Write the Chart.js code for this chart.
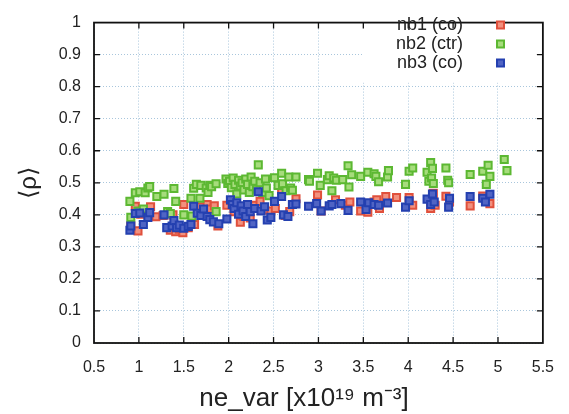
<!DOCTYPE html>
<html>
<head>
<meta charset="utf-8">
<script src="https://cdn.jsdelivr.net/npm/chart.js@4/dist/chart.umd.min.js"></script>
<style>
html,body{margin:0;padding:0;background:#fff;}
#wrap{width:569px;height:414px;position:relative;}
</style>
</head>
<body>
<div id="wrap"><canvas id="c" width="569" height="414"></canvas></div>
<script>
// ---- data ----
const seriesLabels = ['nb1 (co)', 'nb2 (ctr)', 'nb3 (co)'];
const xTickLabels = ['0.5','1','1.5','2','2.5','3','3.5','4','4.5','5','5.5'];
const yTickLabels = ['0','0.1','0.2','0.3','0.4','0.5','0.6','0.7','0.8','0.9','1'];
const xTitle = 'ne_var [x10\u00B9\u2079 m\u207B\u00B3]\u00A0\u00A0\u00A0\u00A0';
const yTitle = '\u27E8\u03C1\u27E9';

const nb1X = [0.91,0.96,0.99,1.02,1.13,1.19,1.27,1.35,1.38,1.41,1.45,1.49,1.50,1.55,1.62,1.69,1.72,1.76,1.80,1.84,1.88,1.98,2.02,2.06,2.10,2.13,2.17,2.20,2.24,2.29,2.35,2.40,2.47,2.52,2.59,2.63,2.68,2.75,2.99,3.03,3.19,3.30,3.35,3.47,3.55,3.62,3.65,3.68,3.75,3.87,4.01,4.05,4.25,4.28,4.30,4.42,4.46,4.69,4.83,4.91];
const nb1Y = [0.364,0.427,0.350,0.402,0.425,0.394,0.398,0.352,0.400,0.347,0.355,0.344,0.432,0.360,0.370,0.425,0.410,0.432,0.418,0.428,0.365,0.430,0.445,0.410,0.425,0.377,0.395,0.418,0.390,0.430,0.442,0.415,0.412,0.420,0.475,0.398,0.410,0.450,0.462,0.412,0.447,0.430,0.440,0.412,0.408,0.440,0.447,0.420,0.457,0.454,0.454,0.430,0.420,0.467,0.430,0.458,0.440,0.428,0.459,0.435];

const nb2X = [0.90,0.91,0.96,0.99,1.01,1.05,1.07,1.10,1.12,1.20,1.28,1.32,1.35,1.39,1.41,1.50,1.58,1.59,1.61,1.64,1.68,1.69,1.75,1.77,1.79,1.81,1.86,1.86,1.97,1.99,2.01,2.03,2.05,2.07,2.09,2.11,2.13,2.15,2.17,2.19,2.21,2.23,2.25,2.27,2.29,2.31,2.33,2.35,2.38,2.41,2.42,2.45,2.51,2.55,2.59,2.60,2.64,2.67,2.69,2.71,2.75,2.89,2.90,2.99,3.02,3.10,3.12,3.15,3.17,3.20,3.27,3.33,3.34,3.37,3.47,3.55,3.62,3.64,3.67,3.77,3.78,3.97,4.01,4.05,4.21,4.23,4.25,4.26,4.27,4.28,4.42,4.44,4.45,4.69,4.83,4.87,4.89,4.91,5.07,5.10];
const nb2Y = [0.442,0.392,0.469,0.412,0.472,0.418,0.469,0.484,0.488,0.457,0.464,0.410,0.404,0.482,0.442,0.400,0.452,0.396,0.483,0.495,0.452,0.492,0.484,0.470,0.492,0.488,0.497,0.410,0.512,0.498,0.505,0.485,0.515,0.495,0.465,0.508,0.490,0.500,0.478,0.512,0.495,0.470,0.518,0.488,0.505,0.480,0.556,0.500,0.470,0.512,0.484,0.460,0.516,0.492,0.530,0.497,0.475,0.518,0.484,0.477,0.518,0.510,0.505,0.530,0.492,0.510,0.522,0.475,0.515,0.508,0.510,0.553,0.487,0.525,0.520,0.533,0.528,0.520,0.503,0.518,0.538,0.495,0.536,0.546,0.533,0.505,0.563,0.515,0.545,0.498,0.546,0.508,0.500,0.526,0.536,0.495,0.555,0.520,0.573,0.538];

const nb3X = [0.90,0.91,0.96,1.01,1.05,1.10,1.12,1.28,1.31,1.37,1.39,1.42,1.45,1.50,1.55,1.58,1.61,1.65,1.69,1.72,1.76,1.79,1.83,1.89,1.98,2.02,2.04,2.06,2.09,2.11,2.14,2.16,2.19,2.21,2.24,2.27,2.29,2.33,2.36,2.40,2.43,2.47,2.51,2.59,2.61,2.66,2.71,2.75,2.89,2.98,3.03,3.12,3.15,3.25,3.33,3.47,3.53,3.56,3.62,3.67,3.77,3.97,4.01,4.21,4.25,4.27,4.29,4.45,4.46,4.69,4.83,4.86,4.91];
const nb3Y = [0.352,0.365,0.404,0.406,0.370,0.392,0.407,0.400,0.360,0.365,0.382,0.360,0.368,0.358,0.364,0.370,0.427,0.405,0.398,0.418,0.395,0.385,0.378,0.372,0.387,0.447,0.432,0.420,0.438,0.402,0.428,0.412,0.395,0.432,0.410,0.372,0.420,0.472,0.412,0.425,0.384,0.392,0.442,0.457,0.400,0.395,0.432,0.434,0.427,0.435,0.412,0.428,0.432,0.435,0.414,0.440,0.417,0.438,0.432,0.430,0.437,0.424,0.444,0.449,0.432,0.465,0.440,0.424,0.452,0.457,0.452,0.440,0.464];

// ---- styles ----
const borderCols = ['#e0503c', '#5cb832', '#2440b0'];
const fillCols = ['#f2907e', '#a6dc7c', '#5064c4'];
const FONT = '"Liberation Sans", Arial, sans-serif';

function pts(xs, ys){ return xs.map((x,i)=>({x:x, y:ys[i]})); }

const datasets = [[nb1X,nb1Y],[nb2X,nb2Y],[nb3X,nb3Y]].map((s,i)=>({
  label: seriesLabels[i],
  data: pts(s[0], s[1]),
  pointStyle: 'rect',
  pointRadius: 5,
  pointHoverRadius: 5,
  borderWidth: 2,
  borderColor: borderCols[i],
  backgroundColor: fillCols[i],
  showLine: false,
  order: 3 - i
}));

const framePlugin = {
  id: 'frame',
  beforeDatasetsDraw(chart){
    const ctx = chart.ctx, a = chart.chartArea;
    ctx.save();
    ctx.fillStyle = '#ffffff';
    ctx.fillRect(362, a.top + 2, 174, 58);
    ctx.restore();
  },
  afterDatasetsDraw(chart){
    const ctx = chart.ctx, a = chart.chartArea;
    const xs = chart.scales.x, ys = chart.scales.y;
    ctx.save();
    ctx.strokeStyle = '#111';
    ctx.lineWidth = 1.3;
    const L = 6;
    ctx.beginPath();
    xs.ticks.forEach(t=>{
      const px = xs.getPixelForValue(t.value);
      if (px <= a.left + 1 || px >= a.right - 1) return;
      ctx.moveTo(px, a.bottom); ctx.lineTo(px, a.bottom - L);
      ctx.moveTo(px, a.top); ctx.lineTo(px, a.top + L);
    });
    ys.ticks.forEach(t=>{
      const py = ys.getPixelForValue(t.value);
      if (py <= a.top + 1 || py >= a.bottom - 1) return;
      ctx.moveTo(a.left, py); ctx.lineTo(a.left + L, py);
      ctx.moveTo(a.right, py); ctx.lineTo(a.right - L, py);
    });
    ctx.stroke();
    ctx.lineWidth = 1.8;
    ctx.strokeRect(a.left, a.top, a.right - a.left, a.bottom - a.top);
    // legend
    ctx.font = '18px ' + FONT;
    ctx.textAlign = 'right';
    ctx.textBaseline = 'middle';
    const rows = [25, 44, 63];
    chart.data.datasets.forEach((d,i)=>{
      ctx.fillStyle = '#222';
      ctx.fillText(d.label, 463, rows[i]);
      ctx.fillStyle = d.backgroundColor;
      ctx.strokeStyle = d.borderColor;
      ctx.lineWidth = 2;
      ctx.fillRect(497, rows[i]-3.5, 7, 7);
      ctx.strokeRect(497, rows[i]-3.5, 7, 7);
    });
    ctx.restore();
  }
};

const gridOpts = {
  color: '#a9c6dc',
  lineWidth: 1,
  drawTicks: false
};

new Chart(document.getElementById('c'), {
  type: 'scatter',
  data: { datasets },
  plugins: [framePlugin],
  options: {
    responsive: false,
    animation: false,
    devicePixelRatio: 1,
    layout: { padding: { top: 12, right: 23, left: 0, bottom: 0 } },
    plugins: { legend: { display: false }, tooltip: { enabled: false } },
    scales: {
      x: {
        type: 'linear', min: 0.5, max: 5.5,
        afterFit(s){ s.height = 71; },
        ticks: {
          stepSize: 0.5, padding: 15, color: '#222',
          font: { family: FONT, size: 16 },
          maxRotation: 0,
          callback: (v, i) => xTickLabels[i]
        },
        grid: gridOpts,
        border: { display: false, dash: [1,2] },
        title: {
          display: true, text: xTitle, color: '#222',
          font: { family: FONT, size: 26 },
          padding: { top: 0, bottom: 0 }
        }
      },
      y: {
        type: 'linear', min: 0, max: 1,
        afterFit(s){ s.width = 94; },
        ticks: {
          stepSize: 0.1, padding: 13, color: '#222',
          font: { family: FONT, size: 16 },
          callback: (v, i) => yTickLabels[i]
        },
        grid: gridOpts,
        border: { display: false, dash: [1,2] },
        title: {
          display: true, text: yTitle, color: '#222',
          font: { family: FONT, size: 24 },
          padding: { top: 15, bottom: 0 }
        }
      }
    }
  }
});
</script>
</body>
</html>
